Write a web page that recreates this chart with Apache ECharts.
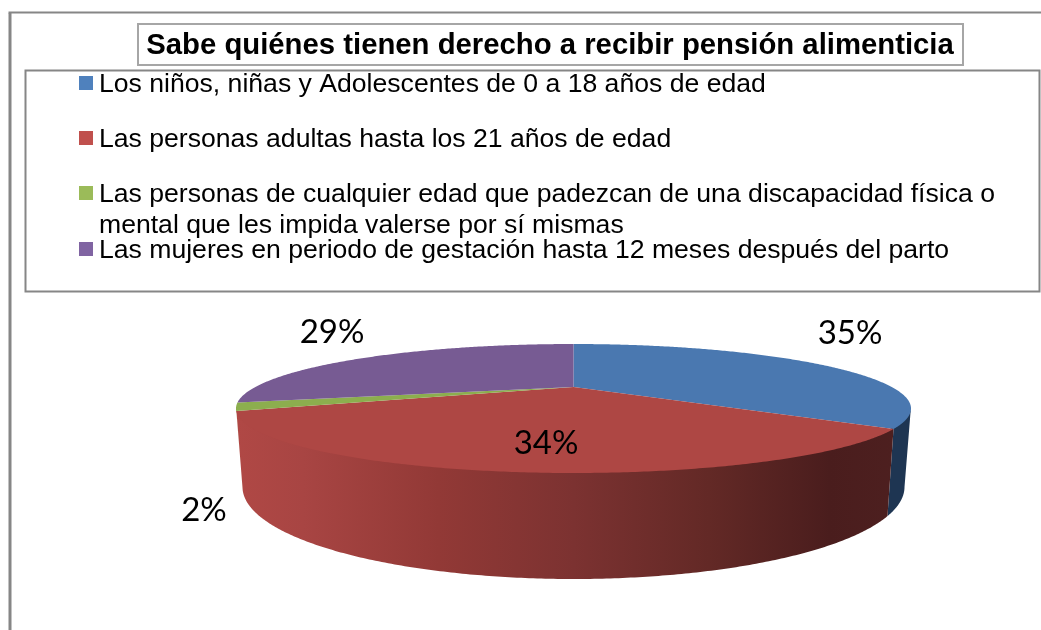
<!DOCTYPE html>
<html>
<head>
<meta charset="utf-8">
<title>Pensión alimenticia</title>
<style>
  html, body { margin: 0; padding: 0; background: #fff; }
  #main { width: 1041px; height: 630px; }
</style>
<script src="https://cdn.jsdelivr.net/npm/echarts@6/dist/echarts.min.js"></script>
</head>
<body>
<div id="main"></div>
<script>
const chartTitle = 'Sabe quiénes tienen derecho a recibir pensión alimenticia'
const categories = [
  'Los niños, niñas y Adolescentes de 0 a 18 años de edad',
  'Las personas adultas hasta los 21 años de edad',
  'Las personas de cualquier edad que padezcan de una discapacidad física o\nmental que les impida valerse por sí mismas',
  'Las mujeres en periodo de gestación hasta 12 meses después del parto'
]
const percentages = [35, 34, 2, 29]

// colores
const legendColors = ['#4f81bd', '#c0504d', '#9bbb59', '#8064a2']
const topColors = ['#4a78b0', '#ae4744', '#8cae4e', '#775b93']
const wallColors = ['#1e3552', null, '#8aa84f', '#4f3c62']
const redWall = {
  type: 'linear', global: true, x: 236, y: 0, x2: 911, y2: 0,
  colorStops: [
    { offset: 0, color: '#b04845' },
    { offset: 0.1, color: '#a84543' },
    { offset: 0.3, color: '#923936' },
    { offset: 0.5, color: '#7c3231' },
    { offset: 0.7, color: '#632926' },
    { offset: 0.88, color: '#4a1d1d' },
    { offset: 1, color: '#4e2020' }
  ]
}

// posicion de las etiquetas y de la leyenda
const labelCenters = [[850, 333], [546, 443], [204, 510], [332, 332]]
const legendRows = [83, 138, 193, 249]

// pastel 3D: centro real, elipse superior y elipse inferior
const apex = { x: 573.5, y: 387 }
const persp = { r: 318.2, b: 57.33, k: 1 / 3 }
const topEllipse = { cy: 408.5, rx: 337.5, ry: 64.5 }
const baseEllipse = { cy: 487, rx: 331, ry: 92 }

// angulo real (desde las 12, horario) -> punto sobre la elipse superior
function topPoint(deg) {
  const a = deg * Math.PI / 180
  const u = Math.sin(a)
  const v = -Math.cos(a)
  const d = 1 - persp.k * v
  return [apex.x + persp.r * u / d, apex.y + persp.b * v / d]
}

// mismo angulo de la elipse, pero en la base
function basePoint(p) {
  const sx = (p[0] - apex.x) / topEllipse.rx
  const sy = (p[1] - topEllipse.cy) / topEllipse.ry
  return [apex.x + baseEllipse.rx * sx, baseEllipse.cy + baseEllipse.ry * sy]
}

function arcPoints(from, to) {
  const pts = []
  const steps = Math.max(2, Math.ceil((to - from) * 2))
  for (let i = 0; i <= steps; i++) {
    pts.push(topPoint(from + (to - from) * i / steps))
  }
  return pts
}

const total = percentages.reduce((a, b) => a + b, 0)

function renderSlice(params, api) {
  const i = params.dataIndex
  const value = api.value(0)
  let before = 0
  for (let j = 0; j < i; j++) before += percentages[j]
  const from = before / total * 360
  const to = (before + value) / total * 360
  const arc = arcPoints(from, to)
  const children = []

  // pared: solo la parte delantera, 2px metida bajo la cara para que no quede raya blanca
  const front = arc.filter(p => p[1] >= topEllipse.cy)
  if (front.length > 1) {
    const inner = front.map(p => [p[0], p[1] - 2])
    children.push({
      type: 'polygon',
      z2: 1,
      shape: { points: inner.concat(front.map(basePoint).reverse()) },
      style: { fill: wallColors[i] || redWall }
    })
  }

  // cara superior
  children.push({
    type: 'polygon',
    z2: 2,
    shape: { points: [[apex.x, apex.y]].concat(arc) },
    style: { fill: topColors[i] }
  })

  children.push({
    type: 'text',
    z2: 3,
    style: {
      text: value + '%',
      x: labelCenters[i][0],
      y: labelCenters[i][1],
      align: 'center',
      verticalAlign: 'middle',
      font: '33px Lato',
      fill: '#000'
    }
  })
  return { type: 'group', children }
}

// marcos, titulo y leyenda
const frames = [
  { type: 'polyline', shape: { points: [[10, 630], [10, 13]] }, style: { stroke: '#868686', lineWidth: 3, fill: null } },
  { type: 'polyline', shape: { points: [[8.5, 12.5], [1041, 12.5]] }, style: { stroke: '#868686', lineWidth: 2, fill: null } },
  { type: 'rect', shape: { x: 138, y: 24, width: 825, height: 41 }, style: { stroke: '#a6a6a6', lineWidth: 2, fill: '#fff' } },
  { type: 'rect', shape: { x: 25.5, y: 70.5, width: 1014, height: 221 }, style: { stroke: '#868686', lineWidth: 2, fill: '#fff' } },
  {
    type: 'text',
    style: {
      text: chartTitle, x: 550, y: 46, align: 'center', verticalAlign: 'middle',
      font: 'bold 29.3px "Liberation Sans"', fill: '#000'
    }
  }
]

const legendItems = []
categories.forEach((name, i) => {
  legendItems.push({
    type: 'rect',
    shape: { x: 79, y: legendRows[i] - 7, width: 14, height: 14 },
    style: { fill: legendColors[i] }
  })
  legendItems.push({
    type: 'text',
    style: {
      text: name, x: 99, y: legendRows[i] - 14, verticalAlign: 'top',
      font: '26.6px "Liberation Sans"', lineHeight: 31, fill: '#000'
    }
  })
})

const option = {
  animation: false,
  backgroundColor: '#fff',
  tooltip: {
    trigger: 'item',
    formatter(param) {
      return categories[param.dataIndex].replace('\n', ' ') + ': ' + param.value + '%'
    }
  },
  graphic: { elements: frames.concat(legendItems) },
  series: [
    {
      type: 'custom',
      coordinateSystem: 'none',
      renderItem: renderSlice,
      data: percentages.map(v => [v])
    }
  ]
}

let chart = echarts.init(document.getElementById('main'))
chart.setOption(option)
</script>
</body>
</html>
